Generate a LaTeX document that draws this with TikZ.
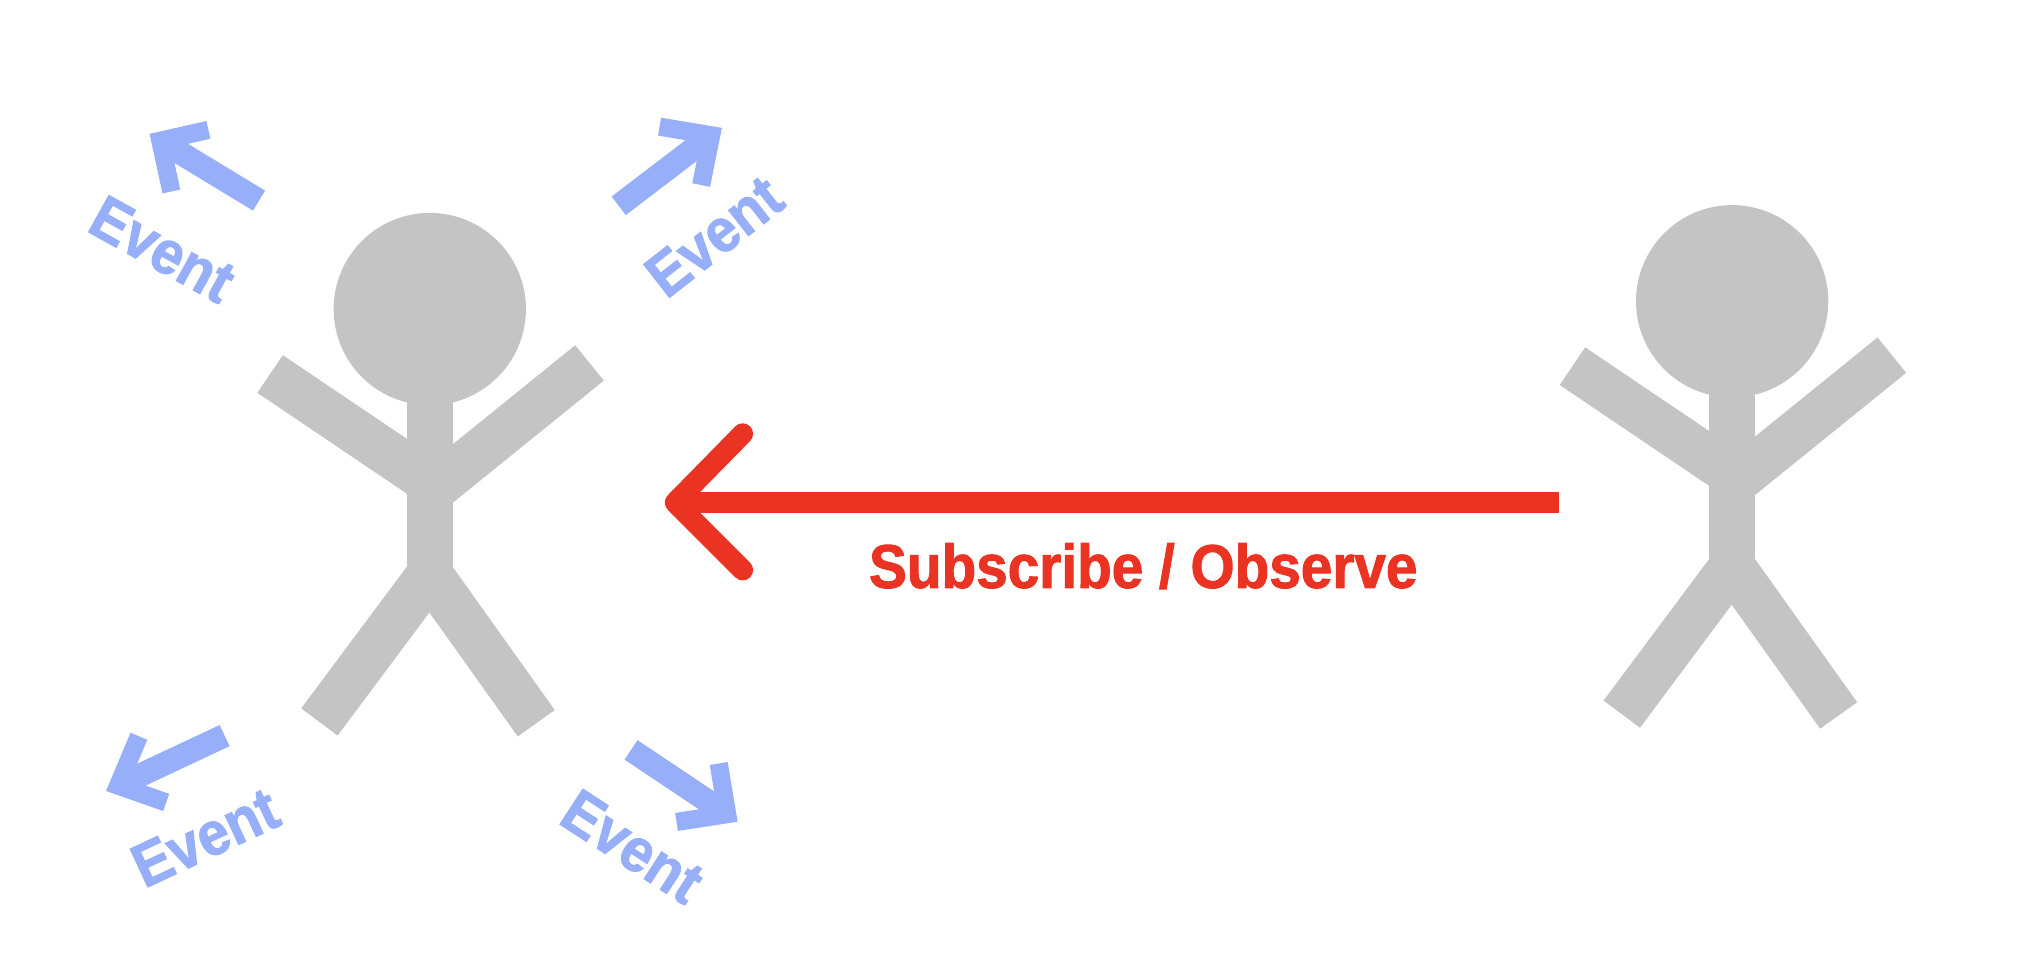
\documentclass[tikz,border=0pt]{standalone}
\usepackage{fontspec}
\setmainfont{Liberation Sans}
\newfontfamily\heavyfont[BoldFeatures={FakeBold=1.6,FakeStretch=0.92}]{Liberation Sans}
\definecolor{figgray}{HTML}{C4C4C4}
\definecolor{eventblue}{HTML}{96AFF8}
\definecolor{subred}{HTML}{EA3323}
\tikzset{
  limb/.style={figgray,line width=0.35cm},
  eventtext/.style={text=eventblue,font=\fontsize{13.4}{15}\heavyfont\bfseries,inner sep=0pt},
  eventshaft/.style={eventblue,line width=0.18cm},
  eventhead/.style={eventblue,line width=0.14cm,miter limit=10},
  stickman/.pic={
    \fill[figgray] (331,238) circle [radius=0.74cm];
    \draw[limb] (331,300) -- (331,450);
    \draw[limb] (208,288) -- (331,371);
    \draw[limb] (454,279.5) -- (331,379);
    \draw[limb] (246,556) -- (331,442);
    \draw[limb] (413,557) -- (331,442);
  }
}

\begin{document}
\begin{tikzpicture}[x=0.01cm,y=-0.01cm]
  \useasboundingbox (0,0) rectangle (1568,748.6);

  \pic (left) at (0,0) {stickman};
  \pic (right) at (1003,-6) {stickman};

  % top left
  \coordinate (tlTail) at (199.5,154.5);
  \coordinate (tlTip) at (123.5,108.4);
  \draw[eventshaft] (tlTail) -- (tlTip);
  \draw[eventhead] (160.5,100) -- (tlTip) -- (132,147.5);
  \node[eventtext,rotate=-29] (tlEvent) at (125,192) {Event};

  % top right
  \coordinate (trTail) at (476.5,158.5);
  \coordinate (trTip) at (547.7,104.2);
  \draw[eventshaft] (trTail) -- (trTip);
  \draw[eventhead] (508,97.5) -- (trTip) -- (540,142.5);
  \node[eventtext,rotate=38] (trEvent) at (550,182) {Event};

  % bottom left
  \coordinate (blTail) at (173,566.5);
  \coordinate (blTip) at (91,605);
  \draw[eventshaft] (blTail) -- (blTip);
  \draw[eventhead] (107,567) -- (blTip) -- (128,618);
  \node[eventtext,rotate=25] (blEvent) at (158,645) {Event};

  % bottom right
  \coordinate (brTail) at (486,577.5);
  \coordinate (brTip) at (560,627);
  \draw[eventshaft] (brTail) -- (brTip);
  \draw[eventhead] (553.5,588) -- (brTip) -- (521,633);
  \node[eventtext,rotate=-33] (brEvent) at (487,652) {Event};

  % subscribe arrow
  \coordinate (subTail) at (1201,387);
  \coordinate (subTip) at (520,387);
  \draw[subred,line width=0.16cm] (subTail) -- (subTip);
  \draw[subred,line width=0.16cm,line cap=round,line join=round] (572,334) -- (subTip) -- (572,439);
  \node[text=subred,font=\fontsize{13.5}{16}\heavyfont\bfseries,inner sep=0pt] (subLabel) at (880.5,436) {Subscribe / Observe};
\end{tikzpicture}
\end{document}
